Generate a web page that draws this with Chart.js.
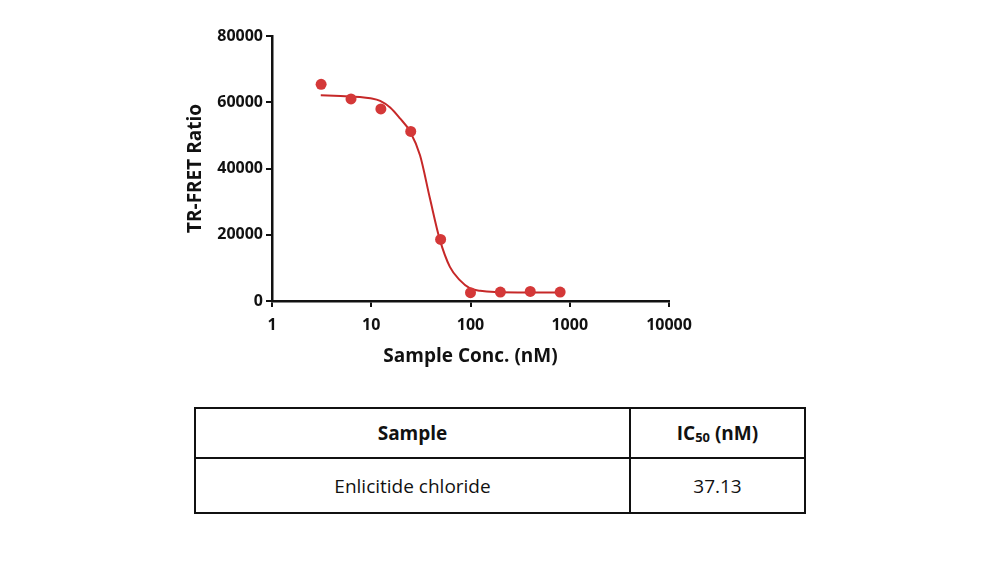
<!DOCTYPE html>
<html>
<head>
<meta charset="utf-8">
<script src="https://cdn.jsdelivr.net/npm/chart.js@4.4.1/dist/chart.umd.min.js"></script>
<style>
  html, body { margin: 0; padding: 0; background: #fff; }
  body { width: 1000px; height: 561px; position: relative; overflow: hidden; font-family: "Open Sans", sans-serif; }
  #plot { position: absolute; left: 0; top: 0; width: 1000px; height: 382px; }
  table { position: absolute; left: 194px; top: 407px; width: 612px; border-collapse: collapse; color: #111; }
  td, th { border: 2px solid #111; text-align: center; font-size: 19px; padding: 0; }
  th { height: 48px; font-weight: bold; }
  td { height: 53px; font-weight: normal; }
  sub { font-size: 0.68em; vertical-align: -0.15em; }
</style>
</head>
<body>
<div id="plot"><canvas id="ic50Chart"></canvas></div>
<table>
  <tr><th style="width:433px">Sample</th><th>IC<sub>50</sub> (nM)</th></tr>
  <tr><td>Enlicitide chloride</td><td>37.13</td></tr>
</table>
<script>
// measured points
const concs = [3.125, 6.25, 12.5, 25, 50, 100, 200, 400, 800];
const ratios = [65400, 61000, 58000, 51200, 18600, 2500, 2700, 2900, 2700];

// fitted curve
const fitConcs = [3.1, 4.9, 7.7, 9.8, 12.3, 15.5, 19.5, 24.6, 31, 39, 49, 62, 78, 99, 125, 176, 300, 800];
const fitRatios = [62100, 61900, 61600, 61200, 60400, 58400, 55100, 51200, 44000, 31000, 18600, 10300, 6300, 3800, 3100, 2700, 2600, 2600];

const xTicks = [1, 10, 100, 1000, 10000];

const pointColor = 'rgb(212, 56, 56)';
const lineColor = 'rgb(198, 40, 40)';

const tickFont = { family: 'Open Sans', size: 16, weight: 'bold' };
const titleFont = { family: 'Open Sans', size: 19, weight: 'bold' };

const ctx = document.getElementById('ic50Chart');
const chart = new Chart(ctx, {
    type: 'scatter',
    data: {
        datasets: [{
            label: 'Fit',
            data: fitConcs.map((c, i) => ({ x: c, y: fitRatios[i] })),
            showLine: true,
            borderColor: lineColor,
            borderWidth: 2,
            pointRadius: 0,
            cubicInterpolationMode: 'monotone',
            fill: false,
            order: 2
        }, {
            label: 'Data',
            data: concs.map((c, i) => ({ x: c, y: ratios[i] })),
            backgroundColor: pointColor,
            borderColor: pointColor,
            pointRadius: 5.5,
            borderWidth: 0,
            order: 1
        }]
    },
    options: {
        responsive: true,
        maintainAspectRatio: false,
        animation: false,
        layout: { padding: { left: 180, top: 36, right: 331, bottom: 10 } },
        plugins: { legend: { display: false }, tooltip: { enabled: false } },
        scales: {
            x: {
                type: 'logarithmic',
                min: 1,
                max: 10000,
                afterBuildTicks: (scale) => { scale.ticks = xTicks.map(v => ({ value: v })); },
                afterFit: (scale) => { scale.height = 71; },
                ticks: {
                    color: '#111',
                    font: tickFont,
                    padding: 9,
                    maxRotation: 0,
                    callback: (v) => String(v)
                },
                grid: { drawOnChartArea: false, drawTicks: true, tickLength: 6, color: '#111', lineWidth: 2 },
                border: { color: '#111', width: 2.5 },
                title: { display: true, text: 'Sample Conc. (nM)', color: '#111', font: titleFont }
            },
            y: {
                min: 0,
                max: 80000,
                afterFit: (scale) => { scale.width = 92; },
                ticks: { stepSize: 20000, color: '#111', font: tickFont, padding: 3, callback: (v) => String(v) },
                grid: { drawOnChartArea: false, drawTicks: true, tickLength: 6, color: '#111', lineWidth: 2 },
                border: { color: '#111', width: 2.5 },
                title: { display: true, text: 'TR-FRET Ratio', color: '#111', font: titleFont }
            }
        }
    }
});
</script>
</body>
</html>
